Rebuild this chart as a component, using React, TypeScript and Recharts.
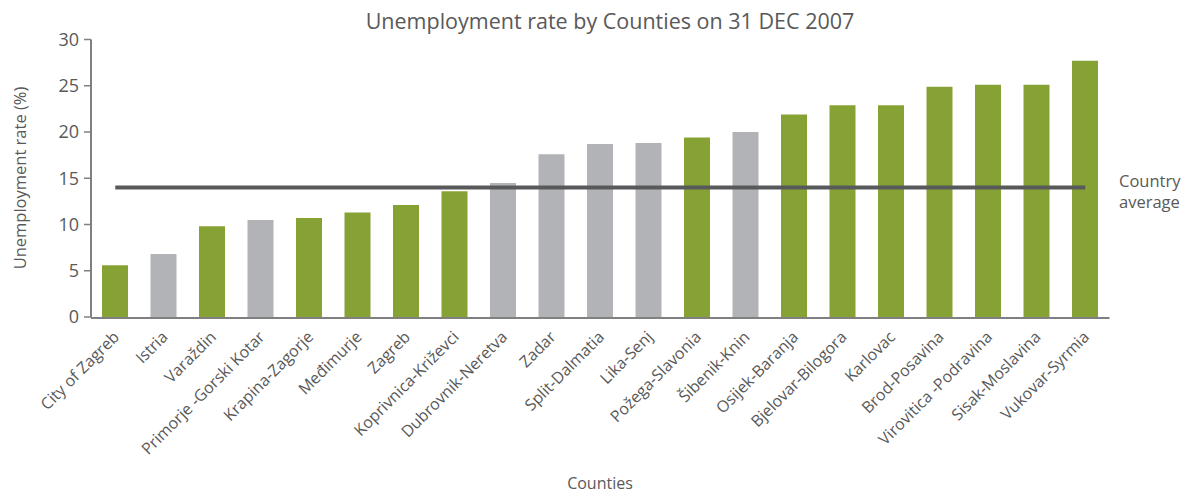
import React from 'react';
import { BarChart, Bar, XAxis, YAxis, Cell, ReferenceLine } from 'recharts';

const counties = [
  'City of Zagreb', 'Istria', 'Varaždin', 'Primorje -Gorski Kotar', 'Krapina-Zagorje',
  'Međimurje', 'Zagreb', 'Koprivnica-Križevci', 'Dubrovnik-Neretva', 'Zadar',
  'Split-Dalmatia', 'Lika-Senj', 'Požega-Slavonia', 'Šibenik-Knin', 'Osijek-Baranja',
  'Bjelovar-Bilogora', 'Karlovac', 'Brod-Posavina', 'Virovitica -Podravina',
  'Sisak-Moslavina', 'Vukovar-Syrmia',
];
const rates = [5.6, 6.8, 9.8, 10.5, 10.7, 11.3, 12.1, 13.6, 14.5, 17.6, 18.7, 18.8, 19.4, 20.0, 21.9, 22.9, 22.9, 24.9, 25.1, 25.1, 27.7];
const coastal = [false, true, false, true, false, false, false, false, true, true, true, true, false, true, false, false, false, false, false, false, false];
const countryAverage = 14.0;
const yTicks = [0, 5, 10, 15, 20, 25, 30];
const edgeTicks = counties.map((_, i) => i).concat([counties.length]);

const GREEN = '#87a234';
const GRAY = '#b2b3b7';
const TEXT = '#595959';
const AXIS = '#808080';
const FONT = '"Open Sans", "Noto Sans", sans-serif';

const data = counties.map((c, i) => ({ county: c, rate: rates[i], coastal: coastal[i] }));

const CountyTick = (props: any) => {
  const { x, y, payload } = props;
  const ax = x + 5;
  const ay = y + 13;
  return (
    <text
      x={ax}
      y={ay}
      transform={`rotate(-45, ${ax}, ${ay})`}
      textAnchor="end"
      fill={TEXT}
      fontSize={16}
      fontFamily={FONT}
    >
      {payload.value}
    </text>
  );
};

export default function App() {
  return (
    <div style={{ position: 'absolute', left: 0, top: 0, width: 1191, height: 494, background: '#fff' }}>
      <BarChart
        width={1191}
        height={494}
        data={data}
        margin={{ top: 39.5, right: 81.5, bottom: 175, left: 0 }}
        barSize={26}
      >
        <text x={610} y={29} textAnchor="middle" fill={TEXT} fontSize={21.5} fontFamily={FONT}>
          Unemployment rate by Counties on 31 DEC 2007
        </text>
        <text x={600} y={489} textAnchor="middle" fill={TEXT} fontSize={16} fontFamily={FONT}>
          Counties
        </text>
        <text
          x={26}
          y={178}
          transform="rotate(-90, 26, 178)"
          textAnchor="middle"
          fill={TEXT}
          fontSize={16.5}
          fontFamily={FONT}
        >
          Unemployment rate (%)
        </text>
        <text x={1119} y={187} fill={TEXT} fontSize={16.5} fontFamily={FONT}>Country</text>
        <text x={1119} y={208} fill={TEXT} fontSize={16.5} fontFamily={FONT}>average</text>
        <XAxis
          xAxisId="edges"
          type="number"
          domain={[0, counties.length]}
          ticks={edgeTicks}
          tick={false}
          height={1}
          axisLine={{ stroke: AXIS, strokeWidth: 2 }}
          tickLine={{ stroke: AXIS, strokeWidth: 1.5 }}
          tickSize={6}
          allowDataOverflow
        />
        <XAxis
          dataKey="county"
          type="category"
          interval={0}
          height={1}
          axisLine={false}
          tickLine={false}
          tick={<CountyTick />}
        />
        <YAxis
          width={91}
          domain={[0, 30]}
          ticks={yTicks}
          interval={0}
          axisLine={{ stroke: AXIS, strokeWidth: 2 }}
          tickLine={{ stroke: AXIS, strokeWidth: 1.5 }}
          tickSize={7}
          tickMargin={5}
          tick={{ fill: TEXT, fontSize: 18, fontFamily: FONT }}
        />
        <Bar dataKey="rate" isAnimationActive={false}>
          {data.map((d, i) => (
            <Cell key={i} fill={d.coastal ? GRAY : GREEN} />
          ))}
        </Bar>
        <ReferenceLine
          segment={[{ x: counties[0], y: countryAverage }, { x: counties[counties.length - 1], y: countryAverage }]}
          stroke="#58595b"
          strokeWidth={4}
        />
      </BarChart>
    </div>
  );
}
